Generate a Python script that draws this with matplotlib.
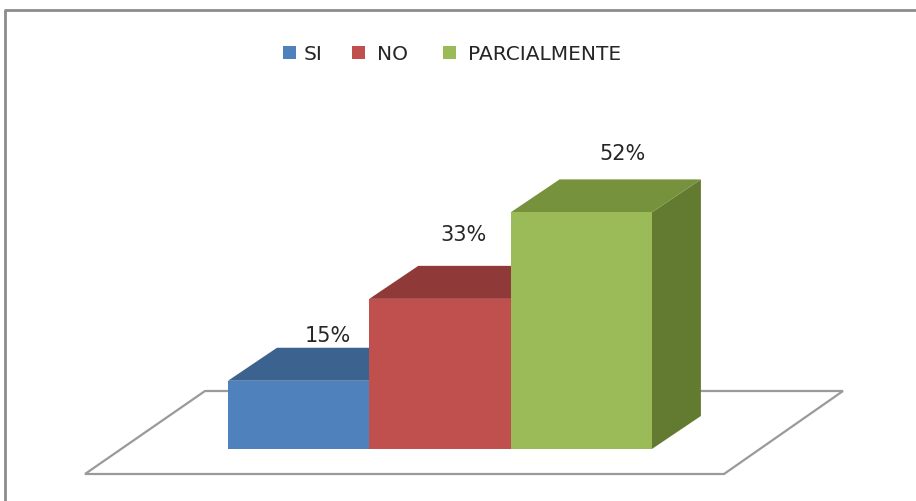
import matplotlib
matplotlib.use("Agg")
import matplotlib.pyplot as plt
from matplotlib.patches import Polygon, Rectangle

# datos del grafico
categorias = ["SI", "NO", "PARCIALMENTE"]
valores = [15, 33, 52]
etiquetas = ["15%", "33%", "52%"]

col_frente = ["#4F81BD", "#C0504D", "#9BBB59"]
col_arriba = ["#3C628F", "#8F3A38", "#76923C"]
col_lado = ["#355780", "#80312F", "#637A31"]

# geometria en pixeles (la figura es de 916x502)
base_y = 450
x0 = 228
ancho = 141.3
esc = 4.55            # pixeles por punto porcentual
dx, dy = 49, -33      # profundidad de las barras
# desplazamiento de las etiquetas respecto al centro de la cara superior
etq_dx = [5, -1, 17]
etq_dy = [13, 32, 26]

fig = plt.figure(figsize=(9.16, 5.02), dpi=100)
ax = fig.add_axes([0, 0, 1, 1])
ax.set_xlim(0, 916)
ax.set_ylim(502, 0)
ax.axis("off")

# marco del grafico
ax.plot([5, 5, 916], [502, 11, 11], color="#8c8c8c", lw=2, solid_capstyle="butt")

# piso
piso = Polygon([(85, 475), (724, 475), (843, 392), (205, 392)], closed=True,
               facecolor="white", edgecolor="#9a9a9a", lw=1.6)
ax.add_patch(piso)

# barras 3D (de izquierda a derecha, la siguiente tapa el lado de la anterior)
n = len(valores)
for i in range(n):
    xl = x0 + i * ancho
    xr = xl + ancho
    top = base_y - valores[i] * esc
    lado = Polygon([(xr, base_y), (xr + dx, base_y + dy), (xr + dx, top + dy), (xr, top)],
                   closed=True, facecolor=col_lado[i], edgecolor="none")
    ax.add_patch(lado)
    arriba = Polygon([(xl, top), (xl + dx, top + dy), (xr + dx, top + dy), (xr, top)],
                     closed=True, facecolor=col_arriba[i], edgecolor="none")
    ax.add_patch(arriba)
    ax.add_patch(Rectangle((xl, top), ancho, base_y - top, facecolor=col_frente[i],
                           edgecolor="none"))

for i in range(n):
    xl = x0 + i * ancho
    top = base_y - valores[i] * esc
    ax.text(xl + ancho / 2 + dx / 2 + etq_dx[i], top + dy - etq_dy[i], etiquetas[i],
            ha="center", va="center", fontsize=15, color="#262626")

# leyenda
ley_x = [283, 352, 443]
ley_tx = [304, 377, 468]
for i in range(n):
    ax.add_patch(Rectangle((ley_x[i], 47), 13, 13, facecolor=col_frente[i], edgecolor="none"))
    ax.text(ley_tx[i], 54, categorias[i], ha="left", va="center", fontsize=14.5,
            color="#262626")

fig.savefig("out.png", dpi=100)
